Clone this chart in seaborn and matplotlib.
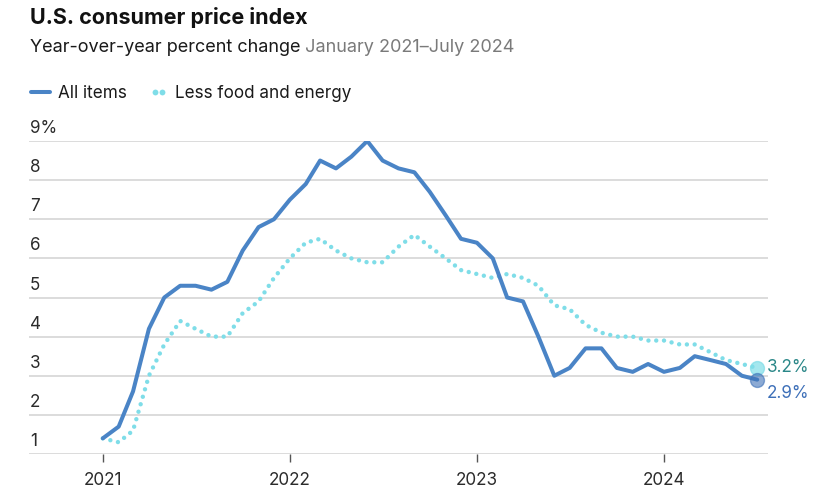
import pandas as pd
import numpy as np
import matplotlib
matplotlib.use('Agg')
import matplotlib.pyplot as plt
import matplotlib.transforms as mtransforms
from matplotlib.lines import Line2D
from matplotlib.legend_handler import HandlerLine2D
import seaborn as sns

# --- data: CPI year-over-year % change, monthly Jan 2021 - Jul 2024 ---
months = pd.date_range('2021-01-01', '2024-07-01', freq='MS')

all_items = [1.4, 1.7, 2.6, 4.2, 5.0, 5.3, 5.3, 5.2, 5.4, 6.2, 6.8, 7.0,
             7.5, 7.9, 8.5, 8.3, 8.6, 9.0, 8.5, 8.3, 8.2, 7.7, 7.1, 6.5,
             6.4, 6.0, 5.0, 4.9, 4.0, 3.0, 3.2, 3.7, 3.7, 3.2, 3.1, 3.3,
             3.1, 3.2, 3.5, 3.4, 3.3, 3.0, 2.9]

core = [1.4, 1.3, 1.6, 3.0, 3.8, 4.4, 4.2, 4.0, 4.0, 4.6, 4.9, 5.5,
        6.0, 6.4, 6.5, 6.2, 6.0, 5.9, 5.9, 6.3, 6.6, 6.3, 6.0, 5.7,
        5.6, 5.5, 5.6, 5.5, 5.3, 4.8, 4.7, 4.3, 4.1, 4.0, 4.0, 3.9,
        3.9, 3.8, 3.8, 3.6, 3.4, 3.3, 3.2]

y_ticks = [1, 2, 3, 4, 5, 6, 7, 8, 9]
y_labels = ['1', '2', '3', '4', '5', '6', '7', '8', '9%']
year_ticks = ['2021', '2022', '2023', '2024']

df = pd.DataFrame({'month': months, 'all_items': all_items, 'core': core})

BLUE = '#4a84c6'
CYAN = '#7fdde8'
GRID = '#d9d9d9'
TXT = '#2b2b2b'
FS = 12.3

sns.set_theme(style='white')
plt.rcParams['font.family'] = ['Inter', 'DejaVu Sans']

fig = plt.figure(figsize=(8.23, 4.94), dpi=100)
ax = fig.add_axes([29 / 823, 1 - 454 / 494, (768 - 29) / 823, (454 - 141) / 494])

# gridlines
for v in y_ticks:
    ax.axhline(v, color=GRID, lw=1.3, zorder=0)

sns.lineplot(data=df, x='month', y='core', ax=ax, color=CYAN, linewidth=3.2,
             linestyle=(0, (0.001, 1.75)), dash_capstyle='round', zorder=3)
sns.lineplot(data=df, x='month', y='all_items', ax=ax, color=BLUE, linewidth=2.9,
             solid_capstyle='round', solid_joinstyle='round', zorder=4)

# end markers
ax.plot(df['month'].iloc[-1], core[-1], 'o', ms=10, color=CYAN, alpha=0.7, zorder=5, clip_on=False)
ax.plot(df['month'].iloc[-1], all_items[-1], 'o', ms=10, color='#3f72b8', alpha=0.6, zorder=5, clip_on=False)
ax.annotate(f'{core[-1]:.1f}%', (df['month'].iloc[-1], core[-1]), xytext=(7, 0),
            textcoords='offset points', va='center', ha='left', fontsize=FS, color='#2a8788')
ax.annotate(f'{all_items[-1]:.1f}%', (df['month'].iloc[-1], all_items[-1]), xytext=(7, -10),
            textcoords='offset points', va='center', ha='left', fontsize=FS, color='#3d6fb8')

ax.set_xlim(pd.Timestamp('2020-08-10'), pd.Timestamp('2024-07-22'))
ax.set_ylim(1, 9)
ax.set_yticks([])
ax.set_xticks([pd.Timestamp(f'{y}-01-01') for y in year_ticks])
ax.set_xticklabels(year_ticks, fontsize=FS, color=TXT)
ax.tick_params(axis='x', length=6, width=1, color='#555555', direction='out', pad=7, bottom=True)
ax.set_xlabel('')
ax.set_ylabel('')
for s in ax.spines.values():
    s.set_visible(False)

# y labels sit above their gridlines
trans = mtransforms.offset_copy(ax.get_yaxis_transform(), fig=fig, x=1, y=4, units='dots')
for v, lab in zip(y_ticks, y_labels):
    ax.text(0, v, lab, transform=trans, ha='left', va='bottom', fontsize=FS, color=TXT)

# title / subtitle
fig.text(30 / 823, 1 - 18 / 494, 'U.S. consumer price index', fontsize=15.5, fontweight='bold',
         color='#111111', va='center', ha='left')
t1 = fig.text(30 / 823, 1 - 48 / 494, 'Year-over-year percent change', fontsize=13,
              color='#1a1a1a', va='center', ha='left')
fig.canvas.draw()
plt.annotate(' January 2021\u2013July 2024', xy=(1, 0.5), xycoords=t1, va='center', ha='left',
             fontsize=13, color='#7a7a7a')

# legend
h_all = Line2D([], [], color=BLUE, lw=2.9, solid_capstyle='round')
h_core = Line2D([], [], color=CYAN, ls='none', marker='o', ms=4.2, markeredgewidth=0)
fig.legend([h_all, h_core], ['All items', 'Less food and energy'], loc='center left',
           bbox_to_anchor=(16 / 823, 1 - 93 / 494), ncol=2, frameon=False, fontsize=FS,
           handlelength=1.1, handletextpad=0.45, columnspacing=1.3, labelcolor='#1a1a1a',
           handler_map={h_all: HandlerLine2D(marker_pad=0, numpoints=2),
                        h_core: HandlerLine2D(marker_pad=0.35, numpoints=2)})

fig.savefig('out.png', dpi=100)
